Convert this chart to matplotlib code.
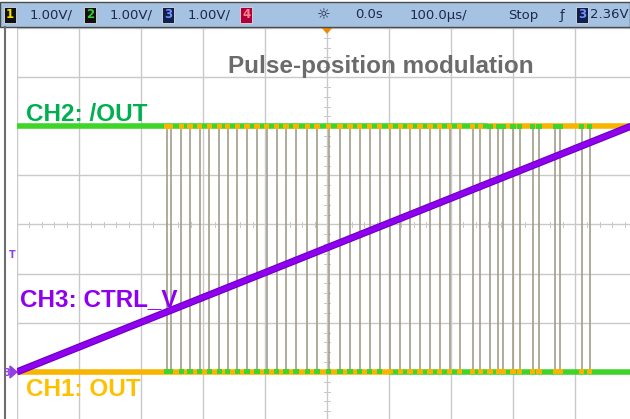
# Pulse-position modulation - scope screenshot recreation
import matplotlib.pyplot as plt
from matplotlib.patches import Rectangle, Polygon

# Scope settings / header text
ch_scales = ["1.00V/", "1.00V/", "1.00V/"]
time_pos = "0.0s"
time_scale = "100.0µs/"
run_state = "Stop"
trig_level = "2.36V"

# Trace levels (divisions)
out_low = -3.0
out_high = 2.0
ramp_t = [-5.0, 4.9]
ramp_v = [-3.0, 2.0]

# Pulse edge positions (divisions)
pulse_x = [-2.58, -2.52, -2.35, -2.21, -2.05, -1.90, -1.74, -1.60, -1.45, -1.29,
           -1.13, -0.97, -0.81, -0.66, -0.50, -0.32, -0.16, 0.03, 0.21, 0.37,
           0.53, 0.69, 0.85, 1.02, 1.18, 1.34, 1.50, 1.66, 1.82, 1.98, 2.14,
           2.35, 2.47, 2.63, 2.76, 2.84, 3.0, 3.11, 3.32, 3.42, 3.68, 3.76,
           4.11, 4.24]

orange = "#f7b500"
green = "#3fd42a"
purple = "#8f00f0"

fig = plt.figure(figsize=(6.3, 4.19), dpi=100)
W, H = 630, 419

# screen area (10 x 8 divisions), slightly cropped at right/bottom
ax = fig.add_axes([17 / W, (H - 421) / H, 620 / W, 393 / H])
ax.set_xlim(-5, 5)
ax.set_ylim(-4, 4)
ax.axis("off")

for gx in range(-5, 6):
    ax.axvline(gx, color="#c9c9c9", lw=1, zorder=0)
for gy in range(-4, 5):
    ax.axhline(gy, color="#c9c9c9", lw=1, zorder=0)
# center graticule ticks
for t in range(-25, 26):
    ax.plot([t / 5, t / 5], [-0.05, 0.05], color="#c8c8c8", lw=0.7, zorder=0)
for t in range(-20, 21):
    ax.plot([-0.05, 0.05], [t / 5, t / 5], color="#c8c8c8", lw=0.7, zorder=0)

# pulse edges
ax.vlines(pulse_x, out_low, out_high, color="#a39e8a", lw=1.4, alpha=0.85, zorder=1)

# CH2 (/OUT) top line, CH1 (OUT) bottom line
tw = 4.0
ax.plot([-5, 2.6], [out_high, out_high], color=green, lw=tw, zorder=2, solid_capstyle="butt")
ax.plot([2.6, 5], [out_high, out_high], color=orange, lw=tw, zorder=2, solid_capstyle="butt")
ax.plot([-5, 1.0], [out_low, out_low], color=orange, lw=tw, zorder=2, solid_capstyle="butt")
ax.plot([1.0, 5], [out_low, out_low], color=green, lw=tw, zorder=2, solid_capstyle="butt")
top_c = [orange if p < 2.6 else green for p in pulse_x]
bot_c = [green if p < 1.0 else orange for p in pulse_x]
ax.scatter(pulse_x, [out_high] * len(pulse_x), s=14, marker="s", c=top_c, zorder=3, lw=0)
ax.scatter(pulse_x, [out_low] * len(pulse_x), s=14, marker="s", c=bot_c, zorder=3, lw=0)

# CH3 ramp
ax.plot(ramp_t, ramp_v, color="#6a00b8", lw=5.2, zorder=4, solid_capstyle="butt")
ax.plot(ramp_t, ramp_v, color=purple, lw=3.8, zorder=5, solid_capstyle="butt")

# labels
lab = dict(fontfamily="Liberation Sans", fontweight="bold", fontsize=17.5)
fig.text(26 / W, 1 - 121 / H, "CH2: /OUT", color="#00b050", **lab)
fig.text(20 / W, 1 - 306 / H, "CH3: CTRL_V", color="#8f00f0", **lab)
fig.text(26 / W, 1 - 396 / H, "CH1: OUT", color="#ffc000", **lab)
fig.text(381 / W, 1 - 73 / H, "Pulse-position modulation", color="#6b6b6b",
         ha="center", **lab)

# left frame
fig.add_artist(plt.Line2D([5 / W, 5 / W], [0, 1 - 27 / H], color="#6e6e6e", lw=1.5))
# markers on left edge
fig.text(9 / W, 1 - 258 / H, "T", color="#9040e0", fontsize=7, fontweight="bold")
fig.text(3 / W, 1 - 376 / H, "3", color="#9040e0", fontsize=7, fontweight="bold")
fig.add_artist(Polygon([[10 / W, 1 - 366 / H], [10 / W, 1 - 378 / H], [17 / W, 1 - 372 / H]],
                       closed=True, color="#9040e0"))
# trigger position marker at top
fig.add_artist(Polygon([[322 / W, 1 - 27 / H], [332 / W, 1 - 27 / H], [327 / W, 1 - 33 / H]],
                       closed=True, color="#f08a00"))

# header bar
fig.add_artist(Rectangle((0, 1 - 27 / H), 1, 25 / H, transform=fig.transFigure,
                         facecolor="#a6c2e2", edgecolor="#4a4a4a", lw=1.0))
hdr = dict(family="DejaVu Sans", fontsize=9.5, color="#1d2a4a", va="center")
hy = 1 - 15 / H
box_fc = ["#111111", "#111111", "#10204a", "#b0003a"]
box_tc = ["#f5e000", "#30d030", "#7090ff", "#ff8090"]
box_x = [6, 86, 164, 242]
for i in range(4):
    fig.text(box_x[i] / W, hy, str(i + 1), color=box_tc[i], fontsize=8.5,
             fontweight="bold", va="center",
             bbox=dict(boxstyle="square,pad=0.15", fc=box_fc[i], ec="#dddddd", lw=0.6))
for i in range(3):
    fig.text((box_x[i] + 24) / W, hy, ch_scales[i], **hdr)
fig.text(324 / W, hy, "☼", ha="center", **dict(hdr, fontsize=11))
fig.text(355 / W, hy, time_pos, **hdr)
fig.text(410 / W, hy, time_scale, **hdr)
fig.text(508 / W, hy, run_state, **hdr)
fig.text(560 / W, hy, "ƒ", **hdr)
fig.text(578 / W, hy, "3", color="#7090ff", fontsize=8.5, fontweight="bold", va="center",
         bbox=dict(boxstyle="square,pad=0.15", fc="#10204a", ec="#dddddd", lw=0.6))
fig.text(629 / W, hy, trig_level, ha="right", **hdr)

plt.savefig("out.png", dpi=100)
